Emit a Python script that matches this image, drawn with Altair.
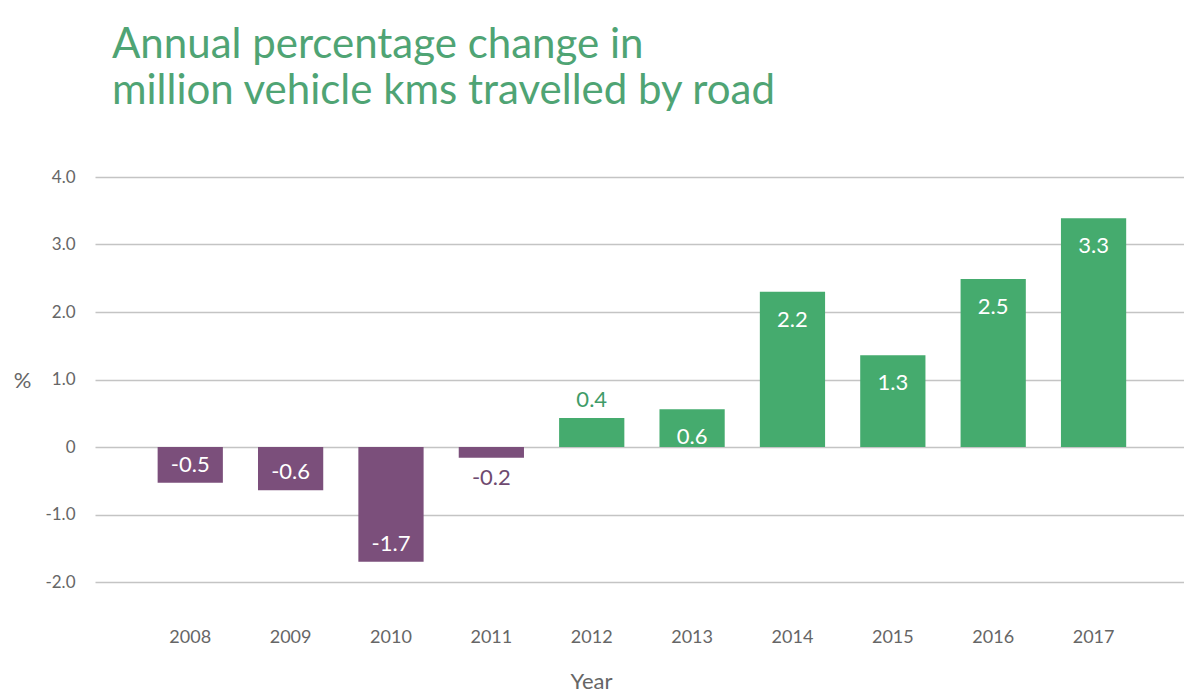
import altair as alt
import pandas as pd

years = ["2008", "2009", "2010", "2011", "2012", "2013", "2014", "2015", "2016", "2017"]
values = [-0.53, -0.64, -1.70, -0.16, 0.43, 0.56, 2.30, 1.36, 2.49, 3.39]
labels = ["-0.5", "-0.6", "-1.7", "-0.2", "0.4", "0.6", "2.2", "1.3", "2.5", "3.3"]
placement = ["in", "in", "in", "out", "out", "in", "in", "in", "in", "in"]

df = pd.DataFrame({"year": years, "value": values, "label": labels, "place": placement})
df["sign"] = ["neg" if v < 0 else "pos" for v in values]

GREEN = "#45ab6e"
PURPLE = "#7b4f7b"
FONT = "Lato"
GRAY = "#666666"

x_enc = alt.X("year:N", scale=alt.Scale(paddingInner=0.35, paddingOuter=0.6, align=0.52),
              axis=alt.Axis(title="Year", labelAngle=0, labelFontSize=18, labelColor=GRAY,
                            labelFont=FONT, labelPadding=46, domain=False, ticks=False,
                            titleFont=FONT, titleFontSize=22, titleColor=GRAY,
                            titleFontWeight="normal", titleX=496, titleY=99,
                            titleBaseline="middle", titleAnchor="start", titleAlign="center"))

y_enc = alt.Y("value:Q", scale=alt.Scale(domain=[-2, 4], nice=False),
              axis=alt.Axis(title="%", values=[-2, -1, 0, 1, 2, 3, 4],
                            labelExpr="datum.value == 0 ? '0' : (datum.value < 0 ? '-' + format(-datum.value, '.1f') : format(datum.value, '.1f'))",
                            labelFontSize=17, labelColor=GRAY, labelFont=FONT, labelPadding=20,
                            domain=False, ticks=False, grid=True, gridColor="#c4c4c4",
                            gridWidth=1.5, titleAngle=0, titleFont=FONT, titleFontSize=22,
                            titleColor=GRAY, titleFontWeight="normal", titleX=-73, titleY=203,
                            titleBaseline="middle", titleAlign="center"))

bars = alt.Chart(df).mark_bar().encode(
    x=x_enc,
    y=y_enc,
    y2=alt.datum(0),
    color=alt.Color("sign:N", scale=alt.Scale(domain=["neg", "pos"], range=[PURPLE, GREEN]),
                    legend=None),
)

def lab(place, sign, dy, color):
    return alt.Chart(df).transform_filter(
        (alt.datum.place == place) & (alt.datum.sign == sign)
    ).mark_text(font=FONT, fontSize=22, baseline="middle", dy=dy, color=color).encode(
        x="year:N", y="value:Q", text="label:N"
    )

chart = alt.layer(
    bars,
    lab("in", "pos", 28, "white"),
    lab("in", "neg", -18, "white"),
    lab("out", "pos", -18, "#3f9c68"),
    lab("out", "neg", 20, "#6f4a70"),
).properties(
    width=1089, height=405,
    title=alt.TitleParams(
        text=["Annual percentage change in", "million vehicle kms travelled by road"],
        anchor="start", frame="group", dx=17, offset=13, fontSize=42, lineHeight=46,
        font=FONT, fontWeight="normal", color="#4fa474", baseline="bottom",
    ),
    autosize=alt.AutoSizeParams(type="none"),
    padding={"left": 87, "top": 169, "right": 0, "bottom": 110},
).configure_view(stroke=None)

chart.save("out.html", embed_options={"renderer": "svg", "actions": False})
